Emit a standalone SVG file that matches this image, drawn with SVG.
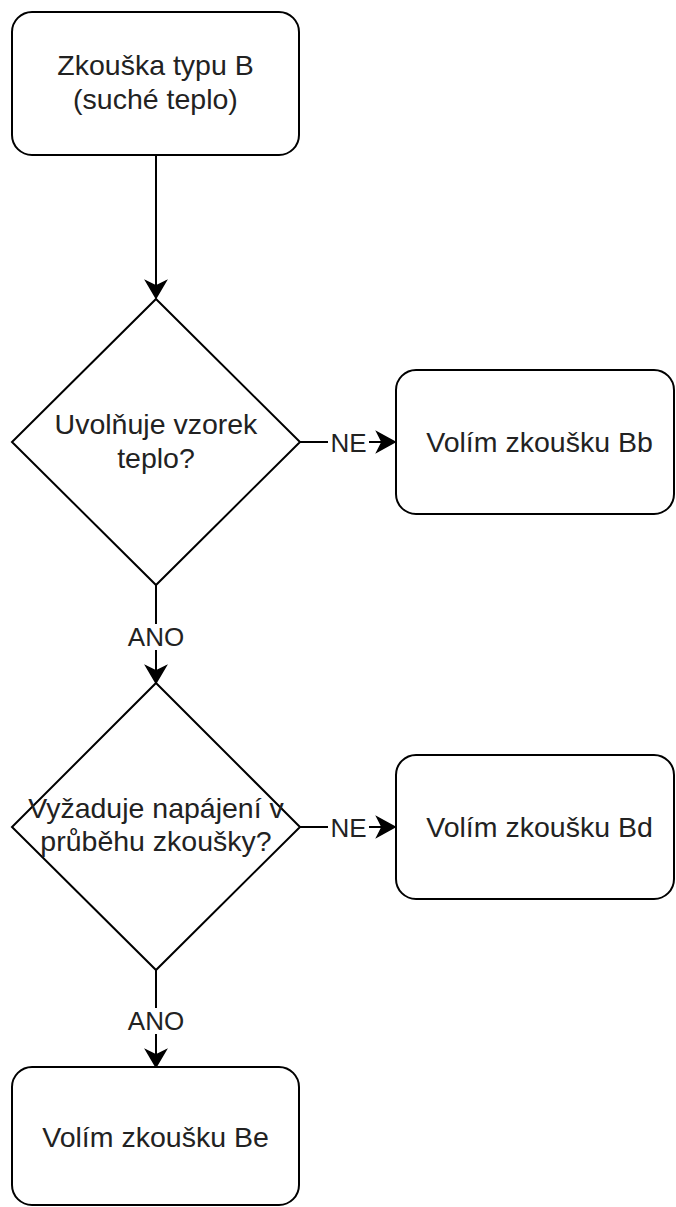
<svg xmlns="http://www.w3.org/2000/svg" width="676" height="1207" viewBox="0 0 676 1207">
<style>
.box{fill:#fff;stroke:#000;stroke-width:2}
.t{font-family:"Liberation Sans",Arial,sans-serif;font-size:28.5px;fill:#222;text-anchor:middle}
.lbl{font-family:"Liberation Sans",Arial,sans-serif;font-size:26px;fill:#222;text-anchor:middle}
.edge{fill:none;stroke:#000;stroke-width:2}
.head{fill:#000;stroke:#000;stroke-width:1.5;stroke-linejoin:miter}
</style>
<rect width="676" height="1207" fill="#fff"/>
<g id="connectors">
  <g id="e1">
    <line class="edge" x1="156" y1="155" x2="156" y2="290"/>
    <path class="head" d="M156,298 L146,281 L156,286 L166,281 Z"/>
  </g>
  <g id="e2">
    <line class="edge" x1="300" y1="442" x2="388" y2="442"/>
    <path class="head" d="M395,442 L377,432 L382,442 L377,452 Z"/>
    <rect x="328" y="428" width="41" height="28" fill="#fff"/>
    <text class="lbl" x="348.5" y="452">NE</text>
  </g>
  <g id="e3">
    <line class="edge" x1="156" y1="585" x2="156" y2="675"/>
    <path class="head" d="M156,683 L146,666 L156,671 L166,666 Z"/>
    <rect x="125" y="624" width="62" height="26" fill="#fff"/>
    <text class="lbl" x="156" y="646">ANO</text>
  </g>
  <g id="e4">
    <line class="edge" x1="300" y1="827" x2="388" y2="827"/>
    <path class="head" d="M395,827 L377,817 L382,827 L377,837 Z"/>
    <rect x="328" y="813" width="41" height="28" fill="#fff"/>
    <text class="lbl" x="348.5" y="837">NE</text>
  </g>
  <g id="e5">
    <line class="edge" x1="156" y1="970" x2="156" y2="1059"/>
    <path class="head" d="M156,1067 L146,1050 L156,1055 L166,1050 Z"/>
    <rect x="125" y="1008" width="62" height="26" fill="#fff"/>
    <text class="lbl" x="156" y="1030">ANO</text>
  </g>
</g>
<g id="start">
  <rect class="box" x="12" y="12" width="287" height="143" rx="20" ry="20"/>
  <text class="t" x="155.5" y="75">Zkouška typu B</text>
  <text class="t" x="155.5" y="109">(suché teplo)</text>
</g>
<g id="d1">
  <polygon class="box" points="156,299 300,442 156,585 12,442"/>
  <text class="t" x="156" y="434">Uvolňuje vzorek</text>
  <text class="t" x="156" y="468">teplo?</text>
</g>
<g id="bb">
  <rect class="box" x="396" y="370" width="278" height="144" rx="20" ry="20"/>
  <text class="t" x="539.5" y="452">Volím zkoušku Bb</text>
</g>
<g id="d2">
  <polygon class="box" points="156,683 300,827 156,970 12,827"/>
  <text class="t" x="156" y="818">Vyžaduje napájení v</text>
  <text class="t" x="156" y="851">průběhu zkoušky?</text>
</g>
<g id="bd">
  <rect class="box" x="396" y="755" width="278" height="144" rx="20" ry="20"/>
  <text class="t" x="539.5" y="837">Volím zkoušku Bd</text>
</g>
<g id="be">
  <rect class="box" x="12" y="1067" width="287" height="138" rx="20" ry="20"/>
  <text class="t" x="155.5" y="1147">Volím zkoušku Be</text>
</g>
</svg>
